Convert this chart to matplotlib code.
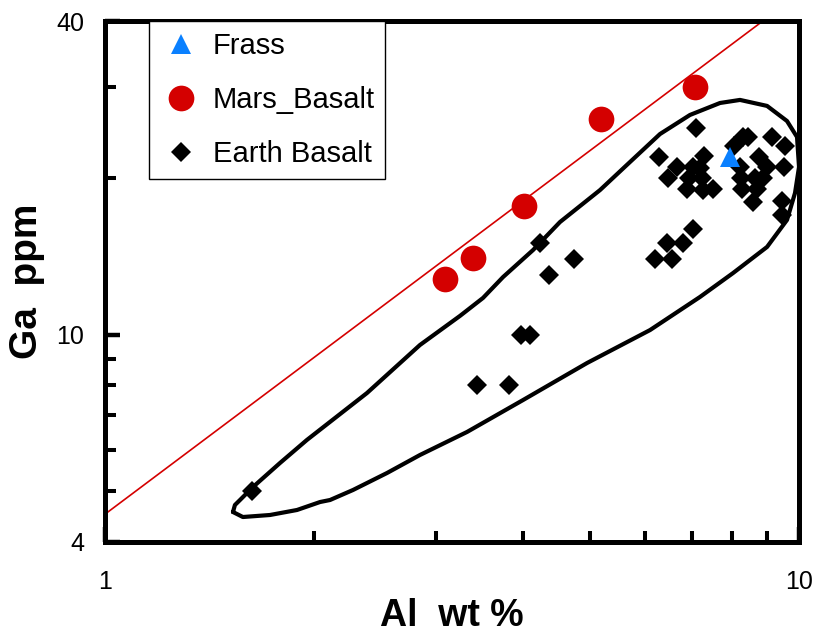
import matplotlib
matplotlib.use('Agg')
import matplotlib.pyplot as plt
from matplotlib.ticker import FixedLocator, FixedFormatter, NullFormatter

plt.rcParams['font.family'] = ['Liberation Sans', 'DejaVu Sans']

# ---------------- data ----------------
frass_al = [7.95]
frass_ga = [22.0]

mars_al = [3.09, 3.39, 4.01, 5.18, 7.07]
mars_ga = [12.8, 14.05, 17.7, 26.0, 30.0]

earth_al = [7.10, 6.29, 6.67, 6.48, 7.30, 7.03, 7.20, 6.94, 7.25, 6.90, 7.27, 7.52,
            8.31, 8.45, 9.14, 9.55, 8.06, 8.76, 8.22, 8.99, 9.52, 8.25, 8.64, 8.87,
            8.28, 8.70, 8.58, 9.45, 9.45, 7.03, 6.45, 6.80, 6.20, 6.56, 4.23, 4.74,
            4.36, 3.98, 4.10, 3.44, 3.82, 1.63]
earth_ga = [25.0, 22.0, 21.0, 20.0, 22.1, 21.0, 20.9, 20.0, 20.0, 19.1, 19.0, 19.1,
            24.0, 24.0, 24.0, 23.1, 23.1, 22.0, 21.0, 21.0, 21.0, 20.0, 20.0, 20.0,
            19.1, 19.1, 18.0, 18.1, 17.0, 16.0, 15.0, 15.0, 14.0, 14.0, 15.0, 14.0,
            13.0, 10.0, 10.0, 8.0, 8.0, 5.0]

trend_al = [1.0, 10.0]
trend_ga = [4.52, 45.2]

envelope_al = [1.529, 1.539, 1.565, 1.634, 1.787, 1.954, 2.385, 2.843, 3.247, 3.505,
               3.746, 4.138, 4.525, 5.167, 5.708, 6.305, 6.964, 7.694, 8.222, 8.994,
               9.609, 9.934, 10.0, 9.868, 9.609, 8.994, 8.034, 7.199, 6.10, 4.95,
               4.002, 3.324, 2.843, 2.549, 2.277, 2.110, 2.041, 1.891, 1.729, 1.58,
               1.529]
envelope_ga = [4.564, 4.708, 4.813, 5.098, 5.669, 6.278, 7.727, 9.556, 10.87, 11.77,
               12.91, 14.55, 16.47, 18.97, 21.48, 24.31, 26.45, 27.89, 28.27, 27.53,
               25.75, 23.99, 21.01, 18.73, 16.62, 14.75, 13.14, 11.82, 10.21, 8.825,
               7.49, 6.504, 5.873, 5.424, 5.031, 4.813, 4.77, 4.605, 4.504, 4.464,
               4.564]

x_major = [1, 10]
x_major_labels = ['1', '10']
x_minor = [2, 3, 4, 5, 6, 7, 8, 9]
y_major = [4, 10, 40]
y_major_labels = ['4', '10', '40']
y_minor = [5, 6, 7, 8, 9, 20, 30]

# ---------------- figure ----------------
fig = plt.figure(figsize=(8.17, 6.36), dpi=100)
ax = fig.add_axes([0.1285, 0.1481, 0.8495, 0.8181])

ax.plot(trend_al, trend_ga, color='#d40000', lw=1.2, zorder=2)
ax.plot(envelope_al, envelope_ga, color='black', lw=3.0, solid_joinstyle='round',
        solid_capstyle='round', zorder=3)

ax.plot(earth_al, earth_ga, linestyle='none', marker='D', ms=10.5, mew=0,
        color='black', label='Earth Basalt', zorder=4)
ax.plot(mars_al, mars_ga, linestyle='none', marker='o', ms=18.5, mew=0,
        color='#d40000', label='Mars_Basalt', zorder=5)
ax.plot(frass_al, frass_ga, linestyle='none', marker='^', ms=14.5, mew=0,
        color='#0a80ff', label='Frass', zorder=6)

ax.set_xscale('log')
ax.set_yscale('log')
ax.set_xlim(1, 10)
ax.set_ylim(4, 40)

ax.xaxis.set_major_locator(FixedLocator(x_major))
ax.xaxis.set_major_formatter(FixedFormatter(x_major_labels))
ax.xaxis.set_minor_locator(FixedLocator(x_minor))
ax.xaxis.set_minor_formatter(NullFormatter())
ax.yaxis.set_major_locator(FixedLocator(y_major))
ax.yaxis.set_major_formatter(FixedFormatter(y_major_labels))
ax.yaxis.set_minor_locator(FixedLocator(y_minor))
ax.yaxis.set_minor_formatter(NullFormatter())

ax.tick_params(which='both', direction='in', top=False, right=False,
               labelsize=18, colors='black')
ax.tick_params(which='major', length=10.8, width=3.2)
ax.tick_params(which='minor', length=8.2, width=2.9)
ax.tick_params(axis='x', which='major', pad=20)
ax.tick_params(axis='y', which='major', pad=15)

for sp in ax.spines.values():
    sp.set_linewidth(3.6)

ax.set_xlabel('Al  wt %', fontsize=27, fontweight='bold', labelpad=3)
ax.set_ylabel('Ga  ppm', fontsize=28, fontweight='bold', labelpad=8)

handles, labels = ax.get_legend_handles_labels()
order = [2, 1, 0]
leg = ax.legend([handles[i] for i in order], [labels[i] for i in order],
                loc='upper left', bbox_to_anchor=(0.0634, 1.0), borderaxespad=0,
                fontsize=21, frameon=True, fancybox=False, framealpha=1,
                edgecolor='black', borderpad=0.36, handlelength=1.47,
                handletextpad=0.36, labelspacing=0.9, numpoints=1)
leg.get_frame().set_linewidth(1.0)
leg.set_zorder(10)

fig.savefig('out.png', dpi=100)
